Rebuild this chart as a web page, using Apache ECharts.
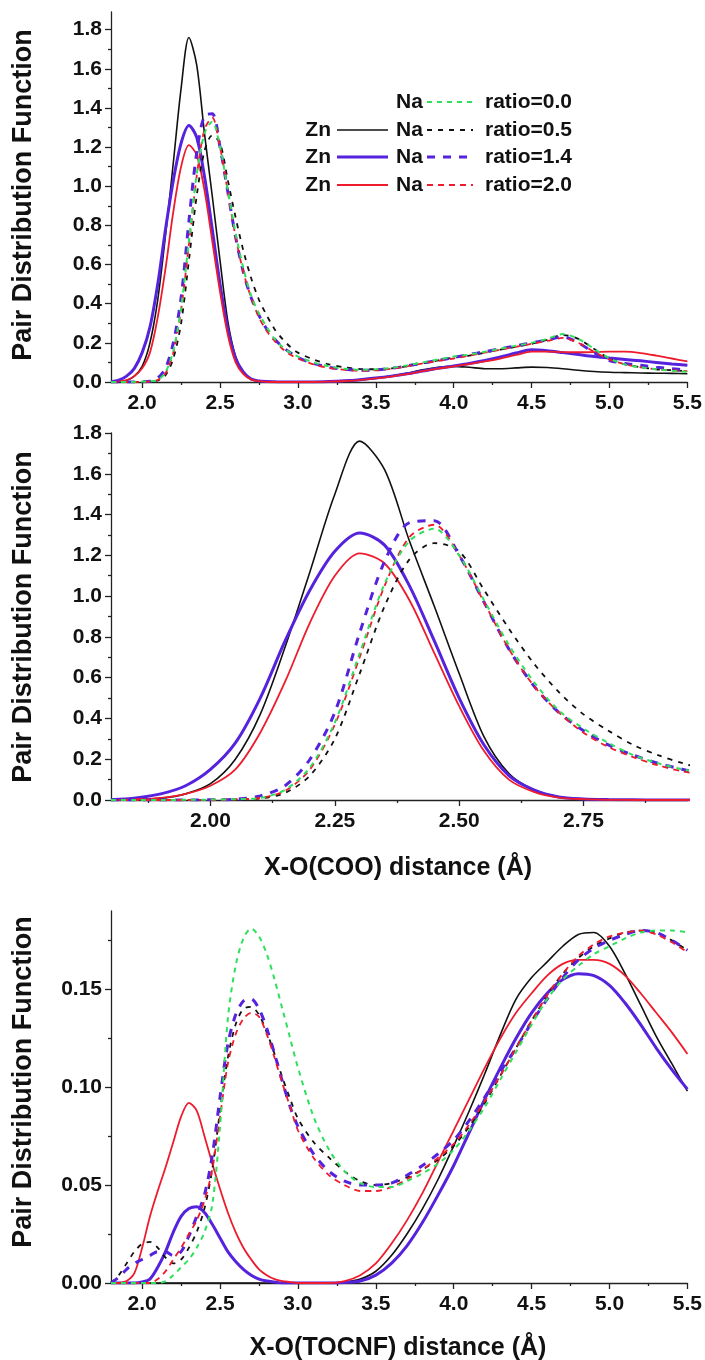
<!DOCTYPE html>
<html>
<head>
<meta charset="utf-8">
<script src="https://cdn.jsdelivr.net/npm/echarts@6.0.0/dist/echarts.min.js"></script>
<style>
html,body{margin:0;padding:0;background:#fff;}
#chart{width:705px;height:1360px;}
</style>
</head>
<body>
<div id="chart"></div>
<script>
// distance grid (Å) shared by all curves
var xDist = [1.80,1.85,1.90,1.95,2.00,2.05,2.10,2.15,2.20,2.25,2.30,2.35,2.40,2.45,2.50,2.55,2.60,2.65,2.70,2.75,2.80,2.85,2.90,2.95,
             3.0,3.1,3.2,3.3,3.4,3.5,3.6,3.7,3.8,3.9,4.0,4.1,4.2,4.3,4.4,4.5,4.6,4.7,4.8,4.9,5.0,5.1,5.2,5.3,5.4,5.5];

// X-O(COO) pair distribution (top + zoomed middle panel)
var cooZn05 = [0,0.002,0.008,0.03,0.08,0.2,0.42,0.75,1.12,1.5,1.76,1.62,1.27,0.95,0.62,0.31,0.13,0.05,0.016,0.005,0.002,0.001,0,0,
               0,0,0.002,0.006,0.012,0.02,0.03,0.045,0.062,0.075,0.08,0.075,0.068,0.068,0.072,0.076,0.074,0.068,0.06,0.054,0.05,0.048,0.046,0.045,0.044,0.042];
var cooZn14 = [0.001,0.01,0.03,0.07,0.15,0.28,0.5,0.78,1.03,1.22,1.31,1.25,1.05,0.78,0.5,0.27,0.12,0.05,0.015,0.005,0.002,0.001,0,0,
               0,0,0.002,0.006,0.012,0.02,0.03,0.042,0.056,0.07,0.082,0.095,0.11,0.128,0.148,0.165,0.16,0.15,0.14,0.13,0.122,0.115,0.108,0.1,0.092,0.085];
var cooZn20 = [0,0.003,0.01,0.03,0.07,0.15,0.33,0.58,0.87,1.1,1.21,1.16,0.98,0.72,0.46,0.24,0.1,0.04,0.012,0.004,0.001,0,0,0,
               0,0,0.002,0.005,0.01,0.018,0.028,0.04,0.055,0.068,0.08,0.092,0.105,0.12,0.138,0.155,0.155,0.153,0.152,0.153,0.155,0.155,0.148,0.135,0.12,0.105];
var cooNa00 = [0,0,0,0.001,0.002,0.004,0.01,0.05,0.16,0.38,0.72,1.06,1.27,1.33,1.2,0.98,0.76,0.58,0.44,0.35,0.28,0.22,0.18,0.15,
               0.13,0.1,0.08,0.068,0.062,0.065,0.072,0.085,0.1,0.115,0.13,0.14,0.155,0.17,0.185,0.2,0.22,0.245,0.22,0.17,0.12,0.09,0.075,0.065,0.058,0.052];
var cooNa05 = [0,0,0,0,0.001,0.003,0.008,0.035,0.12,0.3,0.62,0.95,1.18,1.26,1.22,1.03,0.84,0.67,0.53,0.42,0.34,0.27,0.22,0.18,
               0.15,0.115,0.09,0.075,0.066,0.065,0.07,0.08,0.095,0.11,0.125,0.135,0.15,0.165,0.18,0.195,0.215,0.24,0.22,0.17,0.12,0.09,0.075,0.065,0.06,0.055];
var cooNa14 = [0,0,0,0,0.001,0.004,0.02,0.07,0.2,0.43,0.82,1.17,1.36,1.37,1.2,0.97,0.74,0.56,0.43,0.34,0.27,0.22,0.18,0.15,
               0.125,0.095,0.075,0.065,0.06,0.062,0.07,0.082,0.097,0.11,0.125,0.14,0.155,0.17,0.185,0.2,0.215,0.23,0.2,0.15,0.11,0.095,0.085,0.075,0.068,0.06];
var cooNa20 = [0,0,0,0,0.001,0.003,0.01,0.045,0.15,0.37,0.7,1.05,1.29,1.35,1.2,0.97,0.74,0.56,0.43,0.33,0.26,0.21,0.17,0.14,
               0.12,0.09,0.072,0.062,0.058,0.06,0.068,0.08,0.095,0.108,0.12,0.135,0.15,0.165,0.18,0.195,0.21,0.225,0.2,0.155,0.115,0.09,0.075,0.065,0.06,0.055];

// X-O(TOCNF) pair distribution (bottom panel)
var tocZn05 = [0,0,0,0,0,0,0,0,0,0,0,0,0,0,0,0,0,0,0,0,0,0,0,0,
               0,0,0,0.0005,0.002,0.006,0.014,0.025,0.038,0.053,0.07,0.088,0.107,0.127,0.145,0.156,0.164,0.172,0.178,0.179,0.172,0.158,0.142,0.126,0.112,0.098];
var tocZn14 = [0,0,0,0,0.0005,0.002,0.008,0.016,0.026,0.034,0.038,0.039,0.036,0.03,0.023,0.016,0.011,0.007,0.004,0.002,0.001,0.0005,0,0,
               0,0,0,0.0003,0.001,0.004,0.01,0.019,0.031,0.045,0.06,0.077,0.094,0.11,0.125,0.138,0.148,0.155,0.158,0.157,0.152,0.143,0.132,0.12,0.109,0.099];
var tocZn20 = [0,0,0.001,0.005,0.018,0.034,0.047,0.059,0.072,0.085,0.092,0.088,0.075,0.061,0.048,0.036,0.026,0.018,0.012,0.007,0.004,0.002,0.001,0.0005,
               0,0,0,0.001,0.004,0.01,0.02,0.032,0.046,0.062,0.078,0.094,0.11,0.125,0.138,0.148,0.157,0.163,0.165,0.165,0.163,0.157,0.148,0.138,0.128,0.117];
var tocNa00 = [0,0,0,0,0,0,0,0.001,0.004,0.008,0.012,0.018,0.026,0.04,0.08,0.135,0.162,0.176,0.181,0.177,0.168,0.155,0.14,0.125,
               0.11,0.085,0.068,0.057,0.051,0.049,0.049,0.052,0.056,0.061,0.068,0.078,0.09,0.104,0.118,0.132,0.145,0.155,0.162,0.168,0.172,0.176,0.179,0.18,0.18,0.179];
var tocNa05 = [0,0.004,0.01,0.016,0.02,0.021,0.018,0.013,0.01,0.012,0.018,0.026,0.038,0.058,0.088,0.115,0.132,0.14,0.141,0.137,0.128,0.117,0.105,0.094,
               0.084,0.072,0.064,0.057,0.052,0.05,0.051,0.054,0.058,0.063,0.07,0.08,0.092,0.106,0.12,0.134,0.147,0.158,0.166,0.172,0.176,0.179,0.18,0.179,0.175,0.17];
var tocNa14 = [0,0.003,0.007,0.01,0.012,0.014,0.016,0.016,0.014,0.016,0.024,0.034,0.045,0.065,0.095,0.122,0.137,0.144,0.145,0.14,0.13,0.117,0.103,0.09,
               0.08,0.066,0.057,0.052,0.05,0.05,0.051,0.055,0.06,0.066,0.073,0.083,0.095,0.108,0.12,0.133,0.145,0.156,0.165,0.171,0.175,0.178,0.18,0.179,0.175,0.17];
var tocNa20 = [0,0,0,0,0,0,0.002,0.006,0.012,0.018,0.025,0.032,0.042,0.058,0.085,0.112,0.127,0.135,0.138,0.136,0.127,0.115,0.102,0.09,
               0.078,0.064,0.055,0.05,0.047,0.047,0.049,0.053,0.058,0.064,0.071,0.081,0.093,0.106,0.12,0.134,0.147,0.158,0.167,0.173,0.177,0.179,0.18,0.178,0.174,0.169];

// tick values
var cooYTicks = [0,0.2,0.4,0.6,0.8,1.0,1.2,1.4,1.6,1.8];
var cooYMinor = [0.1,0.3,0.5,0.7,0.9,1.1,1.3,1.5,1.7];
var tocYTicks = [0,0.05,0.10,0.15];
var tocYMinor = [0.025,0.075,0.125,0.175];
var wideXTicks = [2.0,2.5,3.0,3.5,4.0,4.5,5.0,5.5];
var wideXMinor = [2.25,2.75,3.25,3.75,4.25,4.75,5.25];
var zoomXTicks = [2.00,2.25,2.50,2.75];
var zoomXMinor = [1.875,2.125,2.375,2.625,2.875];

// legend text
var ratioLabels = ['ratio=0.0','ratio=0.5','ratio=1.4','ratio=2.0'];

var FONT = '"Liberation Sans", Arial, sans-serif';
var AXIS_COLOR = '#222';
var BLACK = '#111111', BLUE = '#5522dd', RED = '#ee1b2c', GREEN = '#2fe05c';

// line styles (Zn = solid, Na = dashed)
var znDefs = [
    {name:'Zn ratio=0.5', coo:cooZn05, toc:tocZn05, color:BLACK, width:1.6, dash:'solid'},
    {name:'Zn ratio=1.4', coo:cooZn14, toc:tocZn14, color:BLUE, width:3, dash:'solid'},
    {name:'Zn ratio=2.0', coo:cooZn20, toc:tocZn20, color:RED, width:1.8, dash:'solid'}
];
var naDefs = [
    {name:'Na ratio=0.0', coo:cooNa00, toc:tocNa00, color:GREEN, width:2, dash:[5,5]},
    {name:'Na ratio=0.5', coo:cooNa05, toc:tocNa05, color:BLACK, width:1.8, dash:[5,6]},
    {name:'Na ratio=1.4', coo:cooNa14, toc:tocNa14, color:BLUE, width:3, dash:[8,8]},
    {name:'Na ratio=2.0', coo:cooNa20, toc:tocNa20, color:RED, width:1.8, dash:[6,5]}
];

function pairs(ys){
    return xDist.map(function(x, i){ return [x, ys[i]]; });
}

function labelStyle(digits){
    return {
        fontSize:21, fontWeight:'bold', fontFamily:FONT, color:'#111', margin:11,
        formatter:function(v){ return Number(v).toFixed(digits); }
    };
}

/**
 * major + minor axes for one grid
 */
function makeXAxes(grid, min, max, ticks, minor, digits){
    var lbl = labelStyle(digits);
    lbl.customValues = ticks;
    return [{
        type:'value', gridIndex:grid, min:min, max:max, position:'bottom',
        axisLine:{show:true, onZero:false, lineStyle:{color:AXIS_COLOR, width:1.3}},
        axisTick:{show:true, customValues:ticks, length:6, lineStyle:{color:AXIS_COLOR, width:1.3}},
        axisLabel:lbl,
        splitLine:{show:false}
    }, {
        type:'value', gridIndex:grid, min:min, max:max, position:'bottom',
        axisLine:{show:false}, axisLabel:{show:false}, splitLine:{show:false},
        axisTick:{show:true, customValues:minor, length:3, lineStyle:{color:AXIS_COLOR, width:1.3}}
    }];
}
function makeYAxes(grid, max, ticks, minor, digits){
    var lbl = labelStyle(digits);
    lbl.customValues = ticks;
    lbl.margin = 9;
    return [{
        type:'value', gridIndex:grid, min:0, max:max, position:'left',
        axisLine:{show:true, onZero:false, lineStyle:{color:AXIS_COLOR, width:1.3}},
        axisTick:{show:true, customValues:ticks, length:6, lineStyle:{color:AXIS_COLOR, width:1.3}},
        axisLabel:lbl,
        splitLine:{show:false}
    }, {
        type:'value', gridIndex:grid, min:0, max:max, position:'left',
        axisLine:{show:false}, axisLabel:{show:false}, splitLine:{show:false},
        axisTick:{show:true, customValues:minor, length:3, lineStyle:{color:AXIS_COLOR, width:1.3}}
    }];
}

var xAxes = [].concat(
    makeXAxes(0, 1.8, 5.5, wideXTicks, wideXMinor, 1),
    makeXAxes(1, 1.8, 2.96, zoomXTicks, zoomXMinor, 2),
    makeXAxes(2, 1.8, 5.5, wideXTicks, wideXMinor, 1)
);
var yAxes = [].concat(
    makeYAxes(0, 1.89, cooYTicks, cooYMinor, 1),
    makeYAxes(1, 1.8, cooYTicks, cooYMinor, 1),
    makeYAxes(2, 0.19, tocYTicks, tocYMinor, 2)
);

// build line series for the three panels
var series = [];
[0, 1, 2].forEach(function(g){
    znDefs.concat(naDefs.slice(1), naDefs.slice(0, 1)).forEach(function(d){
        series.push({
            type:'line', name:d.name,
            xAxisIndex:g * 2, yAxisIndex:g * 2,
            data:pairs(g === 2 ? d.toc : d.coo),
            showSymbol:false, symbol:'none', smooth:0.3, silent:true,
            lineStyle:{color:d.color, width:d.width, type:d.dash},
            itemStyle:{color:d.color}
        });
    });
});

// titles + legend table drawn as graphic
function txt(x, y, text, size, align, rot){
    return {
        type:'text', x:x, y:y, rotation:rot || 0, silent:true,
        style:{text:text, font:'bold ' + size + 'px ' + FONT, fill:'#111',
               textAlign:align, align:align, textVerticalAlign:'middle', verticalAlign:'middle'}
    };
}
var graphics = [
    txt(24, 195, 'Pair Distribution Function', 27, 'center', Math.PI / 2),
    txt(24, 617, 'Pair Distribution Function', 27, 'center', Math.PI / 2),
    txt(24, 1082, 'Pair Distribution Function', 27, 'center', Math.PI / 2),
    txt(398, 868, 'X-O(COO) distance (Å)', 25, 'center'),
    txt(398, 1348, 'X-O(TOCNF) distance (Å)', 25, 'center')
];
var rowY = [102, 130, 157, 185];
naDefs.forEach(function(na, i){
    var y = rowY[i];
    var zn = i > 0 ? znDefs[i - 1] : null;
    if(zn){
        graphics.push(txt(331, y, 'Zn', 21, 'right'));
        graphics.push({type:'line', silent:true, shape:{x1:337, y1:y, x2:388, y2:y},
            style:{stroke:zn.color, lineWidth:zn.width}});
    }
    graphics.push(txt(396, y, 'Na', 21, 'left'));
    graphics.push({type:'line', silent:true, shape:{x1:427, y1:y, x2:473, y2:y},
        style:{stroke:na.color, lineWidth:na.width, lineDash:na.dash}});
    graphics.push(txt(485, y, ratioLabels[i], 21, 'left'));
});

var option = {
    animation:false,
    backgroundColor:'#ffffff',
    grid:[
        {left:111, top:12, width:577, height:370},
        {left:111, top:433, width:577, height:367},
        {left:111, top:911, width:577, height:372}
    ],
    xAxis:xAxes,
    yAxis:yAxes,
    series:series,
    graphic:graphics
};
echarts.init(document.getElementById('chart')).setOption(option);
</script>
</body>
</html>
